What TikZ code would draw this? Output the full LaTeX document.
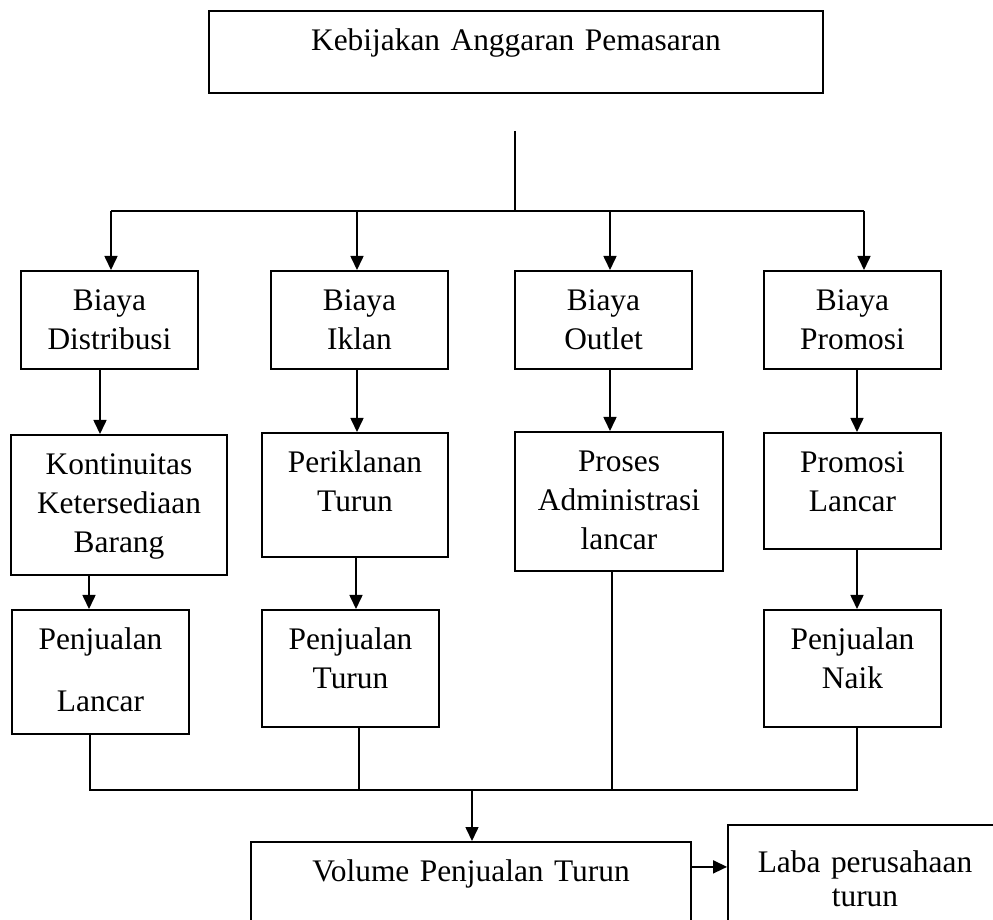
\documentclass[tikz,border=0pt]{standalone}
\usepackage{fontspec}
\setmainfont{Liberation Serif}
\usetikzlibrary{arrows.meta,positioning}
\tikzset{
  box/.style     = {draw, rectangle, line width=0.9pt, anchor=north, align=center,
                    inner xsep=0pt, inner ysep=0pt, text height=20pt,
                    font=\fontsize{15.7}{19.5}\selectfont},
  top box/.style = {box, text width=307pt, text depth=21pt},
  cost/.style    = {box, text width=88.5pt, text depth=29pt},
  effect/.style  = {box, text depth=#1}
}

\begin{document}
\begin{tikzpicture}[x=0.5pt, y=-0.5pt, >={Triangle[length=7pt,width=6.5pt]},
  line width=0.8pt]
\useasboundingbox (0,0) rectangle (993,920);
\clip (0,0) rectangle (993,920);

% policy at the top
\node[top box] (policy) at (516,10) {Kebijakan Anggaran Pemasaran};

% the four kinds of cost
\node[cost] (dist)    at (109.5,270) {Biaya\\Distribusi};
\node[cost] (iklan)   at (359.5,270) {Biaya\\Iklan};
\node[cost] (outlet)  at (603.5,270) {Biaya\\Outlet};
\node[cost] (promosi) at (852.5,270) {Biaya\\Promosi};

% what each cost leads to
\node[effect=50pt, text width=108pt]  (kont)   at (119,434)   {Kontinuitas\\Ketersediaan\\Barang};
\node[effect=42pt, text width=93pt]   (peri)   at (355,432)   {Periklanan\\Turun};
\node[effect=49.5pt, text width=104pt] (proses) at (619,431)  {Proses\\Administrasi\\lancar};
\node[effect=38pt, text width=88.5pt] (proml)  at (852.5,432) {Promosi\\Lancar};

% sales
\node[effect=42pt, text width=88.5pt, font=\fontsize{15.7}{31}\selectfont]
  (pjl) at (100.5,609) {Penjualan\\Lancar};
\node[effect=38.5pt, text width=88.5pt] (pjt) at (350.5,609) {Penjualan\\Turun};
\node[effect=38.5pt, text width=88.5pt] (pjn) at (852.5,609) {Penjualan\\Naik};

% result
\node[effect=60pt, text width=220pt] (vol) at (471,841) {Volume Penjualan Turun};
\node[effect=60pt, text width=137pt, text height=24pt, font=\fontsize{15.7}{17}\selectfont]
  (laba) at (865,824) {Laba perusahaan\\turun};

% branching from the policy
\coordinate (trunk) at (515,131);
\coordinate (b1) at (111,211);
\coordinate (b2) at (357,211);
\coordinate (b3) at (610,211);
\coordinate (b4) at (864,211);
\draw (trunk) -- (trunk |- b1);
\draw (b1) -- (b4);
\foreach \i/\n in {1/dist,2/iklan,3/outlet,4/promosi}
  \draw[->] (b\i) -- (b\i |- \n.north);

% arrows down each column
\foreach \a/\b/\s in {dist/kont/-4.75, iklan/peri/-1.25, outlet/proses/3.25,
                      promosi/proml/2.25, kont/pjl/-15, peri/pjt/0.5, proml/pjn/2.25}
  \draw[->] ([xshift=\s pt]\a.south) -- ([xshift=\s pt]\a.south |- \b.north);

% everything joins into the volume of sales
\coordinate (merge) at (472,790);
\draw ([xshift=-5.25pt]pjl.south) |- (merge) -| ([xshift=2.25pt]pjn.south);
\draw ([xshift=4.25pt]pjt.south) -- ([xshift=4.25pt]pjt.south |- merge);
\draw ([xshift=-3.5pt]proses.south) -- ([xshift=-3.5pt]proses.south |- merge);
\draw[->] (merge) -- (merge |- vol.north);
\draw[->] ([yshift=7.5pt]vol.base east) -- ([yshift=7.5pt]vol.base east -| laba.west);

\end{tikzpicture}
\end{document}
